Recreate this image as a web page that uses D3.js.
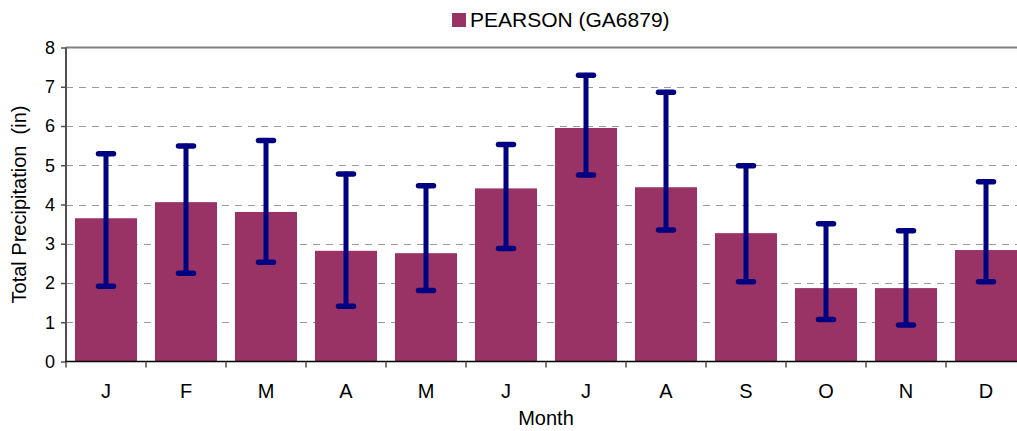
<!DOCTYPE html>
<html>
<head>
<meta charset="utf-8">
<script src="https://cdn.jsdelivr.net/npm/d3@7"></script>
<style>
	body { margin: 0; background: #fff; }
	svg { display: block; font-family: "Liberation Sans", Arial, sans-serif; }
</style>
</head>
<body>
<script>
var months = ['J', 'F', 'M', 'A', 'M', 'J', 'J', 'A', 'S', 'O', 'N', 'D'];
var totals = [3.65, 4.06, 3.81, 2.82, 2.76, 4.41, 5.95, 4.44, 3.27, 1.87, 1.87, 2.84];
var upper = [5.29, 5.49, 5.63, 4.78, 4.48, 5.53, 7.29, 6.86, 4.99, 3.51, 3.33, 4.58];
var lower = [1.92, 2.25, 2.53, 1.41, 1.81, 2.88, 4.75, 3.35, 2.03, 1.07, 0.93, 2.03];
var yTicks = [0, 1, 2, 3, 4, 5, 6, 7, 8];
var seriesName = 'PEARSON (GA6879)';

var width = 1017, height = 431;
var plotLeft = 66, plotTop = 47.5, plotBottom = 361.5, plotRight = 1026;

var svg = d3.select('body')
		.append('svg')
		.attr('width', width)
		.attr('height', height);

var data = months.map(function(m, i) {
	return { key: i, month: m, value: totals[i], hi: upper[i], lo: lower[i] };
});

var x = d3.scaleBand()
	.domain(d3.range(months.length))
	.range([plotLeft, plotRight])
	.paddingInner(0.225)
	.paddingOuter(0.1125);

var y = d3.scaleLinear()
	.domain([0, 8])
	.range([plotBottom, plotTop]);

// gridlines
svg.append('g')
	.selectAll('line')
	.data(yTicks.filter(function(t) { return t > 0 && t < 8; }))
	.enter().append('line')
	.attr('x1', plotLeft)
	.attr('x2', width)
	.attr('y1', function(d) { return Math.round(y(d)) + 0.5; })
	.attr('y2', function(d) { return Math.round(y(d)) + 0.5; })
	.attr('stroke', '#9a9a9a')
	.attr('stroke-width', 1)
	.attr('stroke-dasharray', '7,6');

// top border
svg.append('line')
	.attr('x1', plotLeft).attr('x2', width)
	.attr('y1', y(8)).attr('y2', y(8))
	.attr('stroke', '#808080')
	.attr('stroke-width', 2);

// bars
svg.append('g')
	.selectAll('rect')
	.data(data)
	.enter().append('rect')
	.attr('x', function(d) { return x(d.key); })
	.attr('y', function(d) { return y(d.value); })
	.attr('width', x.bandwidth())
	.attr('height', function(d) { return y(0) - y(d.value); })
	.attr('fill', '#993366');

// error bars
var err = svg.append('g')
	.attr('stroke', '#000080')
	.attr('stroke-linecap', 'round');

err.selectAll('line.stem')
	.data(data)
	.enter().append('line')
	.attr('class', 'stem')
	.attr('x1', function(d) { return x(d.key) + x.bandwidth() / 2; })
	.attr('x2', function(d) { return x(d.key) + x.bandwidth() / 2; })
	.attr('y1', function(d) { return y(d.hi); })
	.attr('y2', function(d) { return y(d.lo); })
	.attr('stroke-width', 5);

['hi', 'lo'].forEach(function(k) {
	err.selectAll('line.cap-' + k)
		.data(data)
		.enter().append('line')
		.attr('class', 'cap-' + k)
		.attr('x1', function(d) { return x(d.key) + x.bandwidth() / 2 - 7.5; })
		.attr('x2', function(d) { return x(d.key) + x.bandwidth() / 2 + 7.5; })
		.attr('y1', function(d) { return y(d[k]); })
		.attr('y2', function(d) { return y(d[k]); })
		.attr('stroke-width', 5.5);
});

// y axis
var yAxis = svg.append('g')
	.attr('transform', 'translate(' + plotLeft + ',0)')
	.call(d3.axisLeft(y).tickValues(yTicks).tickSize(5).tickPadding(6));
yAxis.select('.domain')
	.attr('d', 'M0,' + y(8) + 'V' + y(0))
	.attr('stroke', '#505050')
	.attr('stroke-width', 2);
yAxis.selectAll('.tick line').attr('stroke', '#505050').attr('stroke-width', 1.5);
yAxis.selectAll('.tick text')
	.attr('font-size', '18px')
	.attr('font-family', '"Liberation Sans", Arial, sans-serif')
	.attr('fill', '#000');

// x axis
var xAxis = svg.append('g')
	.attr('transform', 'translate(0,' + plotBottom + ')');
xAxis.append('line')
	.attr('x1', plotLeft - 1).attr('x2', width)
	.attr('y1', 0).attr('y2', 0)
	.attr('stroke', '#000')
	.attr('stroke-width', 1.5);
xAxis.selectAll('line.tk')
	.data(d3.range(months.length + 1))
	.enter().append('line')
	.attr('class', 'tk')
	.attr('x1', function(i) { return plotLeft + x.step() * i; })
	.attr('x2', function(i) { return plotLeft + x.step() * i; })
	.attr('y1', 0).attr('y2', 6)
	.attr('stroke', '#505050')
	.attr('stroke-width', 1.5);
xAxis.selectAll('text')
	.data(data)
	.enter().append('text')
	.attr('x', function(d) { return x(d.key) + x.bandwidth() / 2; })
	.attr('y', 36)
	.attr('text-anchor', 'middle')
	.attr('font-size', '20px')
	.text(function(d) { return d.month; });

// axis titles
svg.append('text')
	.attr('x', (plotLeft + plotRight) / 2)
	.attr('y', 425)
	.attr('text-anchor', 'middle')
	.attr('font-size', '20px')
	.text('Month');

svg.append('text')
	.attr('transform', 'translate(26,' + ((plotTop + plotBottom) / 2) + ') rotate(-90)')
	.attr('text-anchor', 'middle')
	.attr('font-size', '20px')
	.attr('xml:space', 'preserve')
	.style('white-space', 'pre')
	.text('Total Precipitation  (in)');

// legend
var legend = svg.append('g');
legend.append('rect')
	.attr('x', 452).attr('y', 13)
	.attr('width', 14).attr('height', 14)
	.attr('fill', '#993366');
legend.append('text')
	.attr('x', 470)
	.attr('y', 27)
	.attr('font-size', '21px')
	.text(seriesName);
</script>
</body>
</html>
